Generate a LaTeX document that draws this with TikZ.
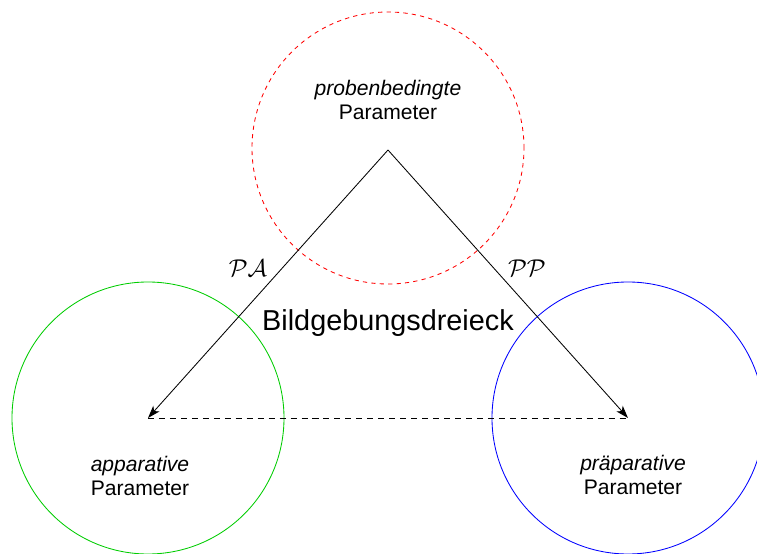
\documentclass[tikz,border=0pt]{standalone}
\usepackage{fontspec}
\setmainfont{Liberation Sans}
\usetikzlibrary{arrows.meta}
\begin{document}
\begin{tikzpicture}[>={Stealth[length=9pt,width=6pt,inset=2.5pt]}, line width=0.6pt]
  \useasboundingbox (-3.7,-3.4) rectangle (15.225,10.45);
  % corners of the triangle
  \coordinate (A) at (0,0);
  \coordinate (P) at (12,0);
  \coordinate (T) at (6,6.7);

  \draw[red, dashed] (6,6.75) circle (3.4);
  \draw[green!80!black] (A) circle (3.4);
  \draw[blue] (P) circle (3.4);

  \draw[->] (T) -- (A);
  \draw[->] (T) -- (P);
  \draw[dashed, dash pattern=on 4.3pt off 3.5pt] (A) -- (P);

  \node[align=center, font=\fontsize{15}{17}\selectfont] (probe) at (6,7.95) {\itshape probenbedingte\\Parameter};
  \node[align=center, font=\fontsize{15}{17}\selectfont] (appar) at (-0.2,-1.45) {\itshape apparative\\Parameter};
  \node[align=center, font=\fontsize{15}{17}\selectfont] (praep) at (12.125,-1.425) {\itshape präparative\\Parameter};
  \node[font=\fontsize{20.5}{24}\selectfont] (dreieck) at (6,2.375) {Bildgebungsdreieck};
  \node[font=\fontsize{18}{20}\selectfont] (pa) at (2.5,3.75) {$\mathcal{PA}$};
  \node[font=\fontsize{18}{20}\selectfont] (pp) at (9.475,3.75) {$\mathcal{PP}$};
\end{tikzpicture}
\end{document}
